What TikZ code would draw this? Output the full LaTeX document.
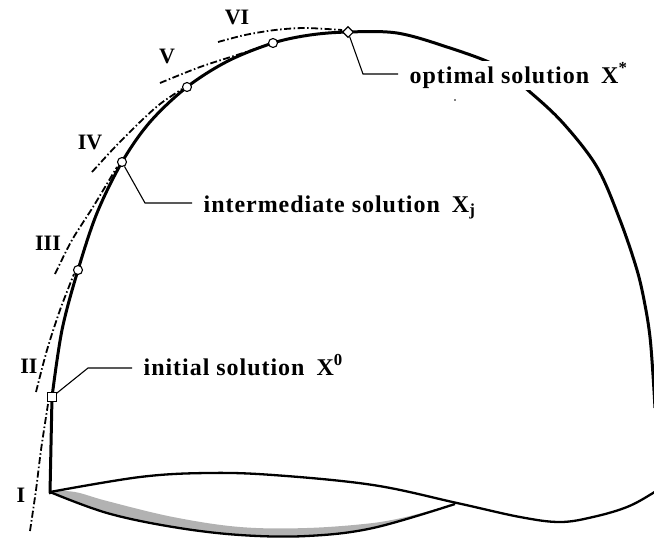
\documentclass[tikz,border=0pt]{standalone}
\usepackage{fontspec}
\setmainfont{Liberation Serif}
\newfontfamily\lblfont[LetterSpace=4]{Liberation Serif}
\usetikzlibrary{shapes.geometric}
\begin{document}
\begin{tikzpicture}[x=1pt,y=-1pt,
  dome/.style={line width=3pt, line join=round, line cap=round},
  lensline/.style={line width=2.3pt, line join=round},
  dd/.style={line width=1.8pt, dash pattern=on 7pt off 2.5pt on 1.5pt off 2.5pt},
  leader/.style={line width=1.1pt},
  ptc/.style={circle, draw, fill=white, line width=1.1pt, inner sep=0pt, minimum size=9pt},
  pts/.style={rectangle, draw, fill=white, line width=1.1pt, inner sep=0pt, minimum size=8.5pt},
  ptd/.style={diamond, draw, fill=white, line width=1.1pt, inner sep=0pt, minimum size=11pt},
  roman/.style={font=\fontsize{22}{24}\selectfont\bfseries, inner sep=0pt},
  sol/.style={font=\lblfont\fontsize{24}{26}\selectfont\bfseries, inner sep=1.5pt, anchor=base west, fill=white},
]
\useasboundingbox (0,0) rectangle (654,539);
\clip (0,0) rectangle (654,539);

% gray band under the base
\fill[gray!60] plot[smooth, tension=0.6] coordinates {(50,492) (107,513) (173,527) (240,535) (307,536) (373,528) (453,505)}
  -- plot[smooth, tension=0.6] coordinates {(410,516) (373,523) (307,528) (240,527) (173,517) (107,501) (75,492) (50,491)} -- cycle;

% base lens
\draw[lensline] plot[smooth, tension=0.6] coordinates {(50,492) (140,477) (207,473) (273,475) (373,485) (457,503) (520,517) (560,522) (593,517) (627,507) (653,493) (675,478)};
\draw[lensline] plot[smooth, tension=0.6] coordinates {(50,492) (107,513) (173,527) (240,535) (307,536) (373,528) (455,504)};

% dome
\draw[dome] (50,493) -- (52,397);
\draw[dome, line cap=butt] plot[smooth, tension=0.55] coordinates {(52,397) (62,330) (78,270) (97,213) (122,162) (150,122) (187,87) (228,61) (273,43) (310,35) (348,32) (397,33) (447,47) (497,66) (530,92) (563,123) (597,167) (620,220) (637,270) (645,305) (650,337) (653,375) (655,408)};

% dash-dot search segments
\draw[dd] plot[smooth] coordinates {(30,531) (36,490) (41,450) (48,404)};
\draw[dd] plot[smooth] coordinates {(36,392) (47,350) (60,310) (74,274)};
\draw[dd] plot[smooth] coordinates {(55,274) (72,240) (93,207) (117,167)};
\draw[dd] plot[smooth] coordinates {(92,172) (115,147) (140,122) (160,104) (182,89)};
\draw[dd] plot[smooth] coordinates {(160,83) (200,67) (240,54) (267,45)};
\draw[dd] plot[smooth] coordinates {(218,42) (245,35) (275,30) (305,28) (342,30)};

% markers
\node[pts] (m0) at (52,397) {};
\node[ptc] (m3) at (78,270) {};
\node[ptc] (m4) at (122,162) {};
\node[ptc] (m5) at (187,87) {};
\node[ptc] (m6) at (273,43) {};
\node[ptd] (mopt) at (348,32) {};

% labels
\node[sol] (tinit) at (142,375) {initial solution\enspace X\textsuperscript{0}};
\node[sol] (tint) at (202,212) {intermediate solution\enspace X\textsubscript{j}};
\node[sol] (topt) at (408,83) {optimal solution\enspace X\textsuperscript{*}};

\coordinate (e0) at (132,368);
\coordinate (e4) at (192,203);
\coordinate (eo) at (398,74);
\draw[leader] (m0) -- (88,368) -- (e0);
\draw[leader] (m4) -- (145,203) -- (e4);
\draw[leader] (mopt) -- (363,74) -- (eo);

\node[roman] (r1) at (21,495) {I};
\node[roman] (r2) at (29,366) {II};
\node[roman] (r3) at (48,243) {III};
\node[roman] (r4) at (90,142) {IV};
\node[roman] (r5) at (167,56) {V};
\node[roman] (r6) at (237,17) {VI};

\fill (455,100) circle (0.8);
\end{tikzpicture}
\end{document}
